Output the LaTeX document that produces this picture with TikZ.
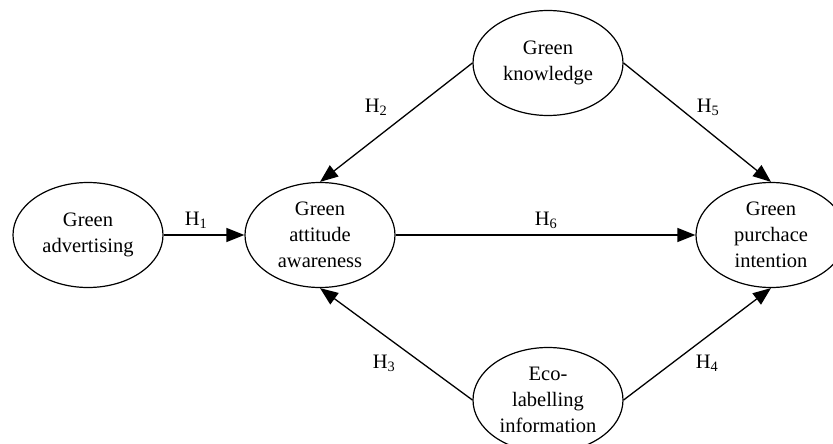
\documentclass[tikz,border=0pt]{standalone}
\usepackage{fontspec}
\setmainfont{Liberation Serif}
\usetikzlibrary{shapes.geometric,arrows.meta}

\tikzset{
  construct/.style={draw, ellipse, line width=1.2pt, inner sep=0pt,
    minimum width=150pt, minimum height=105pt, align=center,
    font=\fontsize{20.5}{26}\selectfont},
  hyp/.style={font=\fontsize{20.5}{22}\selectfont},
  path/.style={-{Triangle[length=18pt,width=14pt]}, line width=1.3pt}
}

\begin{document}
\begin{tikzpicture}[x=1pt,y=-1pt]
            \useasboundingbox (0,0) rectangle (833,444);
            \begin{scope}
            \clip (0,0) rectangle (833,444);
            \node[construct] (adv) at (88,235)  {Green\\advertising};
            \node[construct] (att) at (320,235) {Green\\attitude\\awareness};
            \node[construct] (know) at (548,63) {Green\\knowledge};
            \node[construct] (eco) at (548,400) {Eco-\\labelling\\information};
            \node[construct] (pur) at (771,235) {Green\\purchace\\intention};
            \end{scope}

            \draw[path] (adv) -- (att);
            \draw[path] (att) -- (pur);
            \draw[path] (know.west) -- (att.north);
            \draw[path] (eco.west) -- (att.south);
            \draw[path] (know.east) -- (pur.north);
            \draw[path] (eco.east) -- (pur.south);

            \node[hyp] (h1) at (196,220) {H\textsubscript{1}};
            \node[hyp] (h2) at (376,107) {H\textsubscript{2}};
            \node[hyp] (h3) at (384,363) {H\textsubscript{3}};
            \node[hyp] (h4) at (707,363) {H\textsubscript{4}};
            \node[hyp] (h5) at (708,107) {H\textsubscript{5}};
            \node[hyp] (h6) at (546,220) {H\textsubscript{6}};
        \end{tikzpicture}
\end{document}
